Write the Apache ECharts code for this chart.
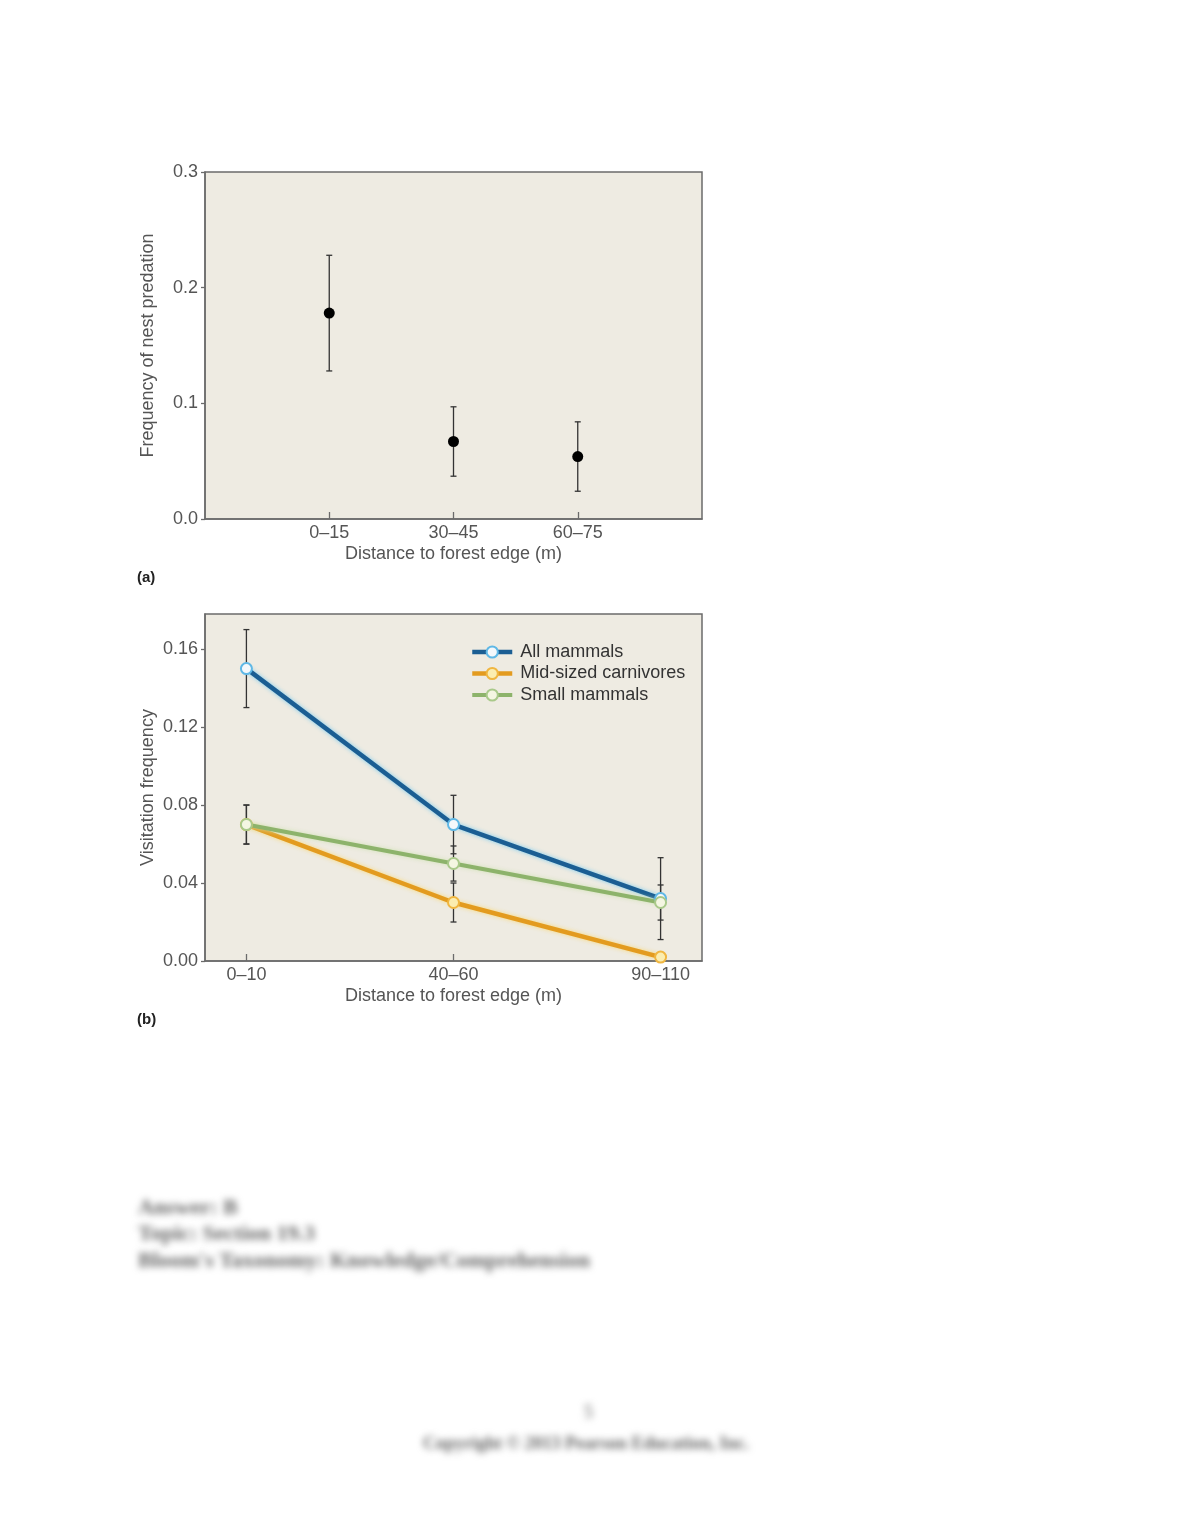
<!DOCTYPE html>
<html>
<head>
<meta charset="utf-8">
<script src="https://cdn.jsdelivr.net/npm/echarts@6/dist/echarts.min.js"></script>
<style>
  html, body { margin: 0; padding: 0; background: #fff; }
  #main { width: 1180px; height: 1527px; position: absolute; left: 0; top: 0; }
  .blur { position: absolute; font-family: 'Liberation Serif', serif; color: #666; filter: blur(3.5px); white-space: nowrap; }
</style>
</head>
<body>
<div id="main"></div>
<div class="blur" style="left:138px; top:1194px; font-size:22px; font-weight:bold;">Answer: B</div>
<div class="blur" style="left:138px; top:1220px; font-size:22px; font-weight:bold;">Topic: Section 19.3</div>
<div class="blur" style="left:138px; top:1247px; font-size:22px; font-weight:bold;">Bloom's Taxonomy: Knowledge/Comprehension</div>
<div class="blur" style="left:584px; top:1402px; font-size:18px;">5</div>
<div class="blur" style="left:423px; top:1433px; font-size:18px; font-weight:bold;">Copyright © 2013 Pearson Education, Inc.</div>
<script>
// panel (a): nest predation
var catsA = ['0\u201315', '30\u201345', '60\u201375'];
var predation = [0.178, 0.067, 0.054];
var predationErr = [0.05, 0.03, 0.03];
var ticksA = [0, 0.1, 0.2, 0.3];

// panel (b): visitation frequency
var catsB = ['0\u201310', '40\u201360', '90\u2013110'];
var allMammals = [0.15, 0.07, 0.032];
var allMammalsErr = [0.02, 0.015, 0.021];
var carnivores = [0.07, 0.03, 0.002];
var carnivoresErr = [0.01, 0.01, 0.002];
var smallMammals = [0.07, 0.05, 0.03];
var smallMammalsErr = [0.01, 0.009, 0.009];
var ticksB = [0, 0.04, 0.08, 0.12, 0.16];

var font = 'Liberation Sans, Arial, sans-serif';
var axisColor = '#6b6b6b';
var labelColor = '#555';

function pts(vals, offset) {
    return vals.map(function (v, i) { return [i + offset, v]; });
}
function bars(vals, errs, offset) {
    return vals.map(function (v, i) { return [i + offset, v - errs[i], v + errs[i]]; });
}
function renderBar(params, api) {
    var x = api.value(0);
    var lo = api.coord([x, api.value(1)]);
    var hi = api.coord([x, api.value(2)]);
    var w = 3;
    var st = { stroke: '#333', lineWidth: 1.3 };
    return {
        type: 'group',
        children: [
            { type: 'line', shape: { x1: lo[0], y1: lo[1], x2: hi[0], y2: hi[1] }, style: st },
            { type: 'line', shape: { x1: hi[0] - w, y1: hi[1], x2: hi[0] + w, y2: hi[1] }, style: st },
            { type: 'line', shape: { x1: lo[0] - w, y1: lo[1], x2: lo[0] + w, y2: lo[1] }, style: st }
        ]
    };
}
function xAxisOf(idx, min, max, vals, cats, offset) {
    return {
        gridIndex: idx, type: 'value', min: min, max: max,
        name: 'Distance to forest edge (m)', nameLocation: 'middle', nameGap: 26,
        nameTextStyle: { color: labelColor, fontSize: 18, fontFamily: font },
        axisLine: { show: true, onZero: false, lineStyle: { color: axisColor, width: 1.5 } },
        axisTick: { show: true, inside: true, length: 7, customValues: vals, lineStyle: { color: axisColor, width: 1.3 } },
        axisLabel: {
            customValues: vals, margin: 5, color: labelColor, fontSize: 18, fontFamily: font,
            formatter: function (v) { return cats[Math.round(v - offset)]; }
        },
        splitLine: { show: false }
    };
}
function yAxisOf(idx, max, ticks, name, digits) {
    return {
        gridIndex: idx, type: 'value', min: 0, max: max,
        name: name, nameLocation: 'middle', nameGap: 48,
        nameTextStyle: { color: labelColor, fontSize: 18, fontFamily: font },
        axisLine: { show: true, onZero: false, lineStyle: { color: axisColor, width: 1.5 } },
        axisTick: { show: true, inside: false, length: 4, customValues: ticks, lineStyle: { color: axisColor, width: 1.3 } },
        axisLabel: {
            customValues: ticks, margin: 7, color: labelColor, fontSize: 18, fontFamily: font,
            formatter: function (v) { return v.toFixed(digits); }
        },
        splitLine: { show: false }
    };
}
function lineSeries(name, vals, color, glow, fill, border, width) {
    return {
        name: name, type: 'line', xAxisIndex: 1, yAxisIndex: 1, z: 3,
        data: pts(vals, 0),
        symbol: 'circle', symbolSize: 11,
        lineStyle: { color: color, width: width, shadowColor: glow, shadowBlur: 4 },
        itemStyle: { color: fill, borderColor: border, borderWidth: 2 }
    };
}

var chart = echarts.init(document.getElementById('main'), null, { renderer: 'canvas' });
chart.setOption({
    animation: false,
    grid: [
        { left: 205, top: 172, width: 497, height: 347, show: true, backgroundColor: '#eeebe2', borderColor: axisColor, borderWidth: 1.5 },
        { left: 205, top: 614, width: 497, height: 347, show: true, backgroundColor: '#eeebe2', borderColor: axisColor, borderWidth: 1.5 }
    ],
    xAxis: [
        xAxisOf(0, 0, 4, [1, 2, 3], catsA, 1),
        xAxisOf(1, -0.2, 2.2, [0, 1, 2], catsB, 0)
    ],
    yAxis: [
        yAxisOf(0, 0.3, ticksA, 'Frequency of nest predation', 1),
        yAxisOf(1, 0.178, ticksB, 'Visitation frequency', 2)
    ],
    legend: {
        data: [
            { name: 'All mammals', lineStyle: { width: 4.5 } },
            { name: 'Mid-sized carnivores', lineStyle: { width: 4.5 } },
            { name: 'Small mammals', lineStyle: { width: 4 } }
        ],
        orient: 'vertical', left: 470, top: 643, padding: 0,
        itemWidth: 40, itemHeight: 14, itemGap: 3.5,
        textStyle: { color: '#333', fontSize: 18, fontFamily: font, padding: [0, 0, 0, 3] }
    },
    graphic: [
        { type: 'text', left: 137, top: 570, style: { text: '(a)', fontSize: 15, fontWeight: 'bold', fill: '#222', fontFamily: font } },
        { type: 'text', left: 137, top: 1012, style: { text: '(b)', fontSize: 15, fontWeight: 'bold', fill: '#222', fontFamily: font } }
    ],
    series: [
        {
            type: 'custom', xAxisIndex: 0, yAxisIndex: 0, z: 2,
            renderItem: renderBar, data: bars(predation, predationErr, 1)
        },
        {
            type: 'scatter', xAxisIndex: 0, yAxisIndex: 0, z: 3,
            symbolSize: 11, itemStyle: { color: '#000', opacity: 1 },
            data: pts(predation, 1)
        },
        { type: 'custom', xAxisIndex: 1, yAxisIndex: 1, z: 2, renderItem: renderBar, data: bars(allMammals, allMammalsErr, 0) },
        { type: 'custom', xAxisIndex: 1, yAxisIndex: 1, z: 2, renderItem: renderBar, data: bars(carnivores, carnivoresErr, 0) },
        { type: 'custom', xAxisIndex: 1, yAxisIndex: 1, z: 2, renderItem: renderBar, data: bars(smallMammals, smallMammalsErr, 0) },
        lineSeries('All mammals', allMammals, '#1b5e93', 'rgba(110,200,240,0.9)', '#f4f8fb', '#5fb8e6', 4.5),
        lineSeries('Mid-sized carnivores', carnivores, '#e39b1f', 'rgba(250,215,110,0.9)', '#fbedb0', '#f0b640', 4.5),
        lineSeries('Small mammals', smallMammals, '#8db36b', 'rgba(205,225,175,0.9)', '#f4f6e2', '#a9c98a', 4)
    ]
});
</script>
</body>
</html>
